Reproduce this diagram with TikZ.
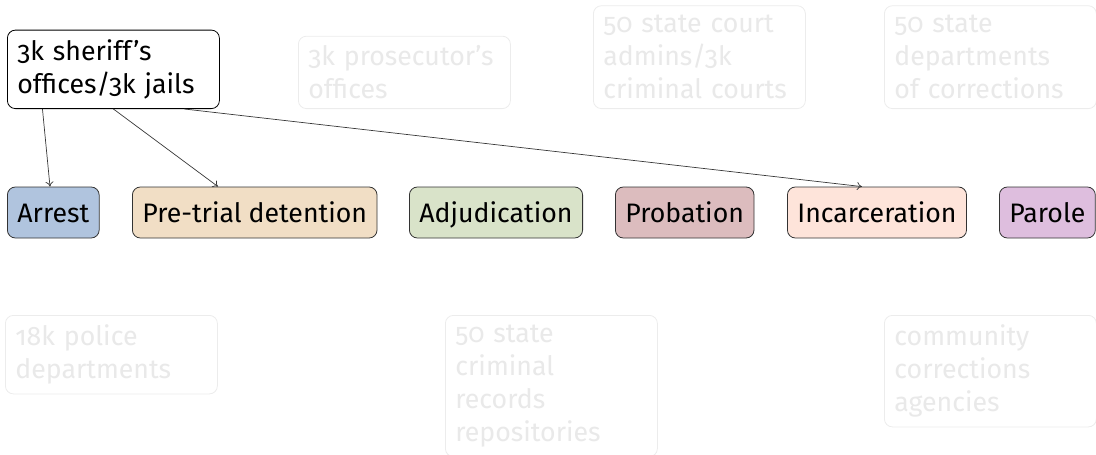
\documentclass[tikz,border=0pt]{standalone}
\usepackage{fontspec}
\setmainfont{Fira Sans}[Numbers=OldStyle]
\usetikzlibrary{calc,arrows.meta}
\definecolor{cArrest}{RGB}{176,196,222}
\definecolor{cPretrial}{RGB}{241,222,197}
\definecolor{cAdjud}{RGB}{217,227,201}
\definecolor{cProb}{RGB}{220,188,190}
\definecolor{cIncar}{RGB}{254,228,218}
\definecolor{cParole}{RGB}{222,190,222}
\definecolor{fadeline}{RGB}{236,236,236}
\definecolor{fadetext}{RGB}{233,233,233}
\definecolor{arrowc}{RGB}{55,55,55}
\tikzset{
  agency/.style={draw=black, line width=0.8pt, rounded corners=8pt, fill=white,
    text width=192pt, align=left, inner xsep=10pt, inner ysep=9.5pt,
    font=\fontsize{26.7}{33}\selectfont},
  faded/.style={agency, draw=fadeline, text=fadetext},
  stage/.style={draw=black!80, line width=0.8pt, rounded corners=8pt,
    text height=22.5pt, text depth=2.5pt,
    minimum height=51pt, inner xsep=10pt, inner ysep=0pt, anchor=west,
    font=\fontsize{26.7}{33}\selectfont},
  flow/.style={draw=arrowc, line width=0.7pt, -{To[length=5pt,width=8pt]}}
}
\begin{document}
\begin{tikzpicture}
\useasboundingbox (0,0) rectangle (1096pt,-455pt);
% top row
\node[agency, anchor=south west] (sheriff) at (7pt,-109pt) {3k sheriff’s\\offices/3k jails};
\node[faded, anchor=south west] (pros) at (298pt,-109pt) {3k prosecutor’s\\offices};
\node[faded, anchor=south west] (court) at (593pt,-109pt) {50 state court\\admins/3k\\criminal courts};
\node[faded, anchor=south west] (doc) at (884pt,-109pt) {50 state\\departments\\of corrections};
% middle row
\node[stage, fill=cArrest] (arrest) at (7pt,-212.5pt) {Arrest};
\node[stage, fill=cPretrial] (pretrial) at (132pt,-212.5pt) {Pre-trial detention};
\node[stage, fill=cAdjud] (adjud) at (409pt,-212.5pt) {Adjudication};
\node[stage, fill=cProb] (prob) at (615pt,-212.5pt) {Probation};
\node[stage, fill=cIncar] (incar) at (787pt,-212.5pt) {Incarceration};
\node[stage, fill=cParole] (parole) at (999pt,-212.5pt) {Parole};
% bottom row
\node[faded, anchor=north west] (police) at (5pt,-315pt) {18k police\\departments};
\node[faded, anchor=north west] (records) at (445pt,-315pt) {50 state\\criminal\\records\\repositories};
\node[faded, anchor=north west] (comm) at (884pt,-315pt) {community\\corrections\\agencies};
% arrows
\draw[flow] ($(sheriff.south west)!1/6!(sheriff.south east)$) -- ($(arrest.north west)+(43pt,0)$);
\draw[flow] ($(sheriff.south west)!1/2!(sheriff.south east)$) -- ($(pretrial.north west)+(86pt,0)$);
\draw[flow] ($(sheriff.south west)!5/6!(sheriff.south east)$) -- ($(incar.north west)+(75pt,0)$);
\end{tikzpicture}
\end{document}
